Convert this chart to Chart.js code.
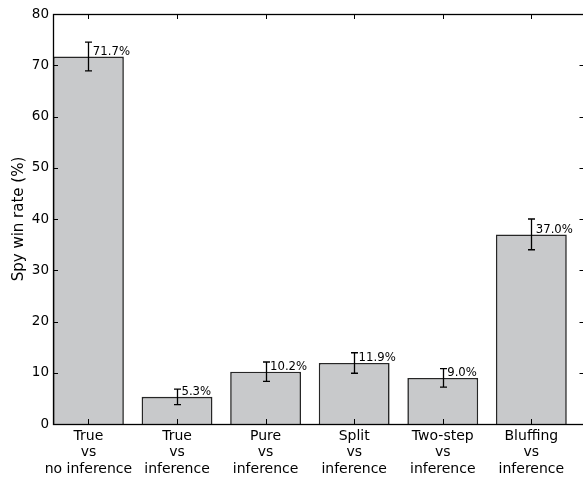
<!DOCTYPE html>
<html>
<head>
<meta charset="utf-8">
<script src="https://cdn.jsdelivr.net/npm/chart.js@4/dist/chart.umd.min.js"></script>
<style>
  html, body { margin: 0; padding: 0; background: #fff; overflow: hidden; }
  #wrap { position: relative; width: 600px; height: 477px; }
</style>
</head>
<body>
<div id="wrap"><canvas id="chart"></canvas></div>
<script>
// Matchups, spy win rate (%) and error half-widths
const categories = [
  ['True', 'vs', 'no inference'],
  ['True', 'vs', 'inference'],
  ['Pure', 'vs', 'inference'],
  ['Split', 'vs', 'inference'],
  ['Two-step', 'vs', 'inference'],
  ['Bluffing', 'vs', 'inference']
];
const winRates = [71.7, 5.3, 10.2, 11.9, 9.0, 37.0];
const errors = [2.8, 1.5, 1.9, 2.0, 1.8, 3.0];
const yTicks = [0, 10, 20, 30, 40, 50, 60, 70, 80];

const FONT = 'DejaVu Sans';

// Frame, inward ticks, error bars and value labels
const decorations = {
  id: 'decorations',
  afterDatasetsDraw(chart) {
    const { ctx, chartArea: a, scales: { x, y } } = chart;
    const T = 5;
    ctx.save();
    ctx.strokeStyle = '#000';
    ctx.lineWidth = 1;

    // inward ticks on all four sides
    ctx.beginPath();
    yTicks.forEach(v => {
      const py = Math.round(y.getPixelForValue(v)) + 0.5;
      ctx.moveTo(a.left, py); ctx.lineTo(a.left + T, py);
      ctx.moveTo(a.right, py); ctx.lineTo(a.right - T, py);
    });
    categories.forEach((c, i) => {
      const px = Math.round(x.getPixelForValue(i)) + 0.5;
      ctx.moveTo(px, a.bottom); ctx.lineTo(px, a.bottom - T);
      ctx.moveTo(px, a.top); ctx.lineTo(px, a.top + T);
    });
    ctx.stroke();

    // frame
    ctx.lineWidth = 1.3;
    ctx.strokeRect(Math.round(a.left) + 0.5, Math.round(a.top) + 0.5,
                   Math.round(a.right - a.left), Math.round(a.bottom - a.top));

    // error bars
    ctx.lineWidth = 1.3;
    ctx.beginPath();
    winRates.forEach((v, i) => {
      const px = Math.round(x.getPixelForValue(i)) + 0.5;
      const hi = y.getPixelForValue(v + errors[i]);
      const lo = y.getPixelForValue(v - errors[i]);
      ctx.moveTo(px, hi); ctx.lineTo(px, lo);
      ctx.moveTo(px - 3.5, hi); ctx.lineTo(px + 3.5, hi);
      ctx.moveTo(px - 3.5, lo); ctx.lineTo(px + 3.5, lo);
    });
    ctx.stroke();

    // value labels
    ctx.fillStyle = '#000';
    ctx.font = '11.7px "' + FONT + '"';
    ctx.textAlign = 'left';
    ctx.textBaseline = 'bottom';
    winRates.forEach((v, i) => {
      const px = x.getPixelForValue(i + 0.05);
      ctx.fillText(v.toFixed(1) + '%', px, y.getPixelForValue(v) + 1);
    });
    ctx.restore();
  }
};

new Chart(document.getElementById('chart'), {
  type: 'bar',
  data: {
    datasets: [{
      data: winRates.map((v, i) => ({ x: i, y: v })),
      backgroundColor: '#c8c9cb',
      borderColor: '#262626',
      borderWidth: 1.6,
      barPercentage: 0.8,
      categoryPercentage: 1.0
    }]
  },
  options: {
    responsive: true,
    maintainAspectRatio: false,
    animation: false,
    layout: { padding: { left: 10, top: 14, right: 15.5, bottom: 0 } },
    plugins: { legend: { display: false }, tooltip: { enabled: false } },
    scales: {
      x: {
        type: 'linear',
        offset: false,
        min: -0.4,
        max: 5.6,
        grid: { display: false, drawTicks: false, offset: false },
        border: { display: false },
        afterBuildTicks: axis => { axis.ticks = categories.map((c, i) => ({ value: i })); },
        afterFit: axis => { axis.height = 53; },
        ticks: {
          color: '#000',
          padding: 4,
          maxRotation: 0,
          autoSkip: false,
          font: { family: FONT, size: 14, lineHeight: 1.18 },
          callback: v => categories[v]
        }
      },
      y: {
        min: 0,
        max: 80,
        grid: { display: false, drawTicks: false },
        border: { display: false },
        afterBuildTicks: axis => { axis.ticks = yTicks.map(v => ({ value: v })); },
        afterFit: axis => { axis.width = 43; },
        ticks: {
          color: '#000',
          padding: 4,
          font: { family: FONT, size: 13.5 }
        },
        title: {
          display: true,
          text: 'Spy win rate (%)',
          color: '#000',
          padding: 0,
          font: { family: FONT, size: 15 }
        }
      }
    }
  },
  plugins: [decorations]
});
</script>
</body>
</html>
